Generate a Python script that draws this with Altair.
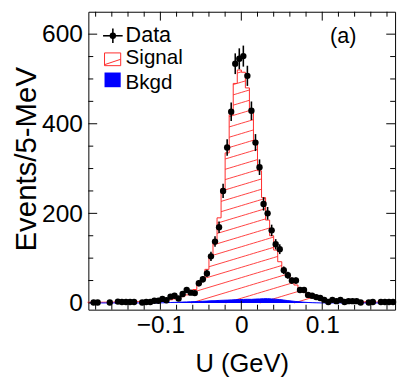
import altair as alt
import pandas as pd
import numpy as np

# ---------------- data ----------------
# bin centres of the 5-MeV histogram (GeV)
bin_centers = [round(-0.1875 + 0.005 * i, 4) for i in range(76)]
bin_width = 0.005

# fitted signal component, one value per bin
signal = [1.5, 1.5, 1.5, 1.6, 1.7, 1.8, 1.9, 2.0, 2.1, 2.3,
          2.5, 2.7, 2.9, 3.1, 3.4, 3.7, 4.1, 4.6, 5.2, 6.0,
          7.0, 9.0, 11.0, 14.0, 18.0, 23.0, 30.0, 40.0, 55.0, 75.0,
          105.0, 140.0, 190.0, 255.0, 335.0, 420.0, 490.0, 520.0, 515.0, 480.0,
          425.0, 360.0, 295.0, 235.0, 185.0, 150.0, 118.0, 92.0, 74.0, 61.0,
          50.0, 40.0, 31.0, 24.0, 18.0, 14.0, 11.0, 8.5, 7.0, 6.0,
          5.0, 4.5, 4.0, 3.6, 3.3, 3.0, 2.8, 2.6, 2.4, 2.2,
          2.1, 2.0, 1.9, 1.8, 1.7, 1.6]

# background component, one value per bin
bkgd = [0, 0, 0, 0, 0, 0, 0, 0, 0, 0,
        0, 0, 0, 0, 0, 0, 0, 0, 0.3, 0.6,
        1.0, 1.3, 1.6, 2.0, 2.3, 2.7, 3.0, 3.3, 3.8, 4.2,
        4.8, 5.0, 5.6, 6.0, 6.3, 6.8, 7.2, 7.6, 7.8, 8.2,
        8.0, 8.6, 9.0, 9.4, 9.6, 9.0, 8.4, 7.5, 6.4, 5.2,
        4.2, 3.2, 2.4, 1.6, 1.0, 0.6, 0.3, 0.1, 0, 0,
        0, 0, 0, 0, 0, 0, 0, 0, 0, 0,
        0, 0, 0, 0, 0, 0]

# data points (non-empty bins)
data_u = [-0.1825, -0.1775, -0.1625, -0.1525, -0.1475, -0.1425, -0.1375, -0.1325,
          -0.1225, -0.1175, -0.1125, -0.1075, -0.1025, -0.0975, -0.0925, -0.0875,
          -0.0825, -0.0775, -0.0725, -0.0675, -0.0625, -0.0575, -0.0525, -0.0475,
          -0.0425, -0.0375, -0.0325, -0.0275, -0.0225, -0.0175, -0.0125, -0.0075,
          -0.0025, 0.0025, 0.0075, 0.0125, 0.0175, 0.0225, 0.0275, 0.0325,
          0.0375, 0.0425, 0.0475, 0.0525, 0.0575, 0.0625, 0.0675, 0.0725,
          0.0775, 0.0825, 0.0875, 0.0925, 0.0975, 0.1025, 0.1075, 0.1125,
          0.1175, 0.1225, 0.1275, 0.1325, 0.1375, 0.1425, 0.1475, 0.1575,
          0.1625, 0.1725, 0.1775, 0.1825, 0.1875]
data_n = [1, 1, 1, 3, 2, 2, 2, 2,
          1, 2, 2, 5, 5, 9, 6, 14,
          16, 10, 20, 29, 23, 22, 44, 53,
          66, 104, 137, 169, 250, 347, 427, 534,
          545, 551, 507, 429, 358, 303, 221, 200,
          162, 131, 120, 73, 62, 50, 50, 29,
          29, 18, 16, 13, 11, 7, 2, 7,
          4, 7, 2, 4, 4, 4, 1, 1,
          2, 2, 2, 2, 2]

x_major = [-0.1, 0.0, 0.1]
x_minor = [-0.18, -0.16, -0.14, -0.12, -0.08, -0.06, -0.04, -0.02,
           0.02, 0.04, 0.06, 0.08, 0.12, 0.14, 0.16, 0.18]
y_major = [0, 200, 400, 600]
y_minor = [50, 100, 150, 250, 300, 350, 450, 500, 550]

# ---------------- layout / style ----------------
W, H = 313, 304
XDOM = [-0.189, 0.190]
YDOM = [-15, 650]
FONT = "Liberation Sans"
RED = "#ff2a2a"
BLUE = "#0000ff"

xs = alt.Scale(domain=XDOM, nice=False, zero=False)
ys = alt.Scale(domain=YDOM, nice=False, zero=False)

hist = pd.DataFrame({"c": bin_centers, "sig": signal, "bkg": bkgd})
hist["left"] = hist["c"] - bin_width / 2
hist["right"] = hist["c"] + bin_width / 2

# step outline of the signal histogram
step = pd.DataFrame({"x": list(hist["left"]) + [hist["right"].iloc[-1]],
                     "y": list(hist["sig"]) + [hist["sig"].iloc[-1]]})

# hatch lines clipped to each bin of the signal histogram
px_per_x = W / (XDOM[1] - XDOM[0])
px_per_y = H / (YDOM[1] - YDOM[0])
slope = 0.30 * px_per_x / px_per_y          # data units
spacing = 10.5 / px_per_y                   # data units
segs = []
for l, r, h in zip(hist["left"], hist["right"], hist["sig"]):
    base = slope * (l - XDOM[0])
    kmin = int(np.floor((0 - base - slope * (r - l)) / spacing)) - 1
    kmax = int(np.ceil((h - base) / spacing)) + 1
    for k in range(kmin, kmax + 1):
        yl = base + k * spacing
        yr = yl + slope * (r - l)
        if yr <= 0 or yl >= h:
            continue
        x1, y1, x2, y2 = l, yl, r, yr
        if y1 < 0:
            x1 = l + (0 - yl) / slope
            y1 = 0
        if y2 > h:
            x2 = r - (yr - h) / slope
            y2 = h
        segs.append({"x1": x1, "y1": y1, "x2": x2, "y2": y2})
hatch = pd.DataFrame(segs)

pts = pd.DataFrame({"u": data_u, "n": data_n})
pts["lo"] = pts["n"] - np.sqrt(pts["n"])
pts["hi"] = pts["n"] + np.sqrt(pts["n"])

# ---------------- layers ----------------
hatch_layer = alt.Chart(hatch).mark_rule(color=RED, strokeWidth=0.9).encode(
    x=alt.X("x1:Q", scale=xs), x2="x2:Q",
    y=alt.Y("y1:Q", scale=ys), y2="y2:Q")

outline = alt.Chart(step).mark_line(color=RED, strokeWidth=1, interpolate="step-after").encode(
    x=alt.X("x:Q", scale=xs,
            axis=alt.Axis(values=x_major, title="U (GeV)", labelPadding=3, titlePadding=14,
                          labelExpr="datum.value == 0 ? '0' : (datum.value < 0 ? '\u2212' : '') + format(abs(datum.value), '.1f')")),
    y=alt.Y("y:Q", scale=ys,
            axis=alt.Axis(values=y_major, title="Events/5-MeV", labelPadding=6, format="d",
                          titleFontSize=30, titleX=-54, titleY=150,
                          titleBaseline="alphabetic", titleAlign="center", titleAngle=270)))

bkg_layer = alt.Chart(hist).mark_area(color=BLUE, opacity=1,
                                      line={"color": BLUE, "strokeWidth": 1}).encode(
    x=alt.X("c:Q", scale=xs), y=alt.Y("bkg:Q", scale=ys))

err = alt.Chart(pts).mark_rule(color="black", strokeWidth=1.6).encode(
    x=alt.X("u:Q", scale=xs), y=alt.Y("lo:Q", scale=ys), y2="hi:Q")

dots = alt.Chart(pts).mark_circle(color="black", size=42, opacity=1).encode(
    x=alt.X("u:Q", scale=xs), y=alt.Y("n:Q", scale=ys))

# inward ticks on all four sides
def ticks(vals, length, axis):
    df = pd.DataFrame({"v": vals})
    out = []
    if axis == "x":
        out.append(alt.Chart(df).mark_rule(color="black").encode(
            x=alt.X("v:Q", scale=xs), y=alt.value(H), y2=alt.value(H - length)))
        out.append(alt.Chart(df).mark_rule(color="black").encode(
            x=alt.X("v:Q", scale=xs), y=alt.value(0), y2=alt.value(length)))
    else:
        out.append(alt.Chart(df).mark_rule(color="black").encode(
            y=alt.Y("v:Q", scale=ys), x=alt.value(0), x2=alt.value(length)))
        out.append(alt.Chart(df).mark_rule(color="black").encode(
            y=alt.Y("v:Q", scale=ys), x=alt.value(W), x2=alt.value(W - length)))
    return out

tick_layers = (ticks(x_major, 9, "x") + ticks(x_minor, 5, "x") +
               ticks(y_major, 9, "y") + ticks(y_minor, 5, "y"))

# legend (top left, inside the frame) and panel label
leg_df = pd.DataFrame({"a": [0]})
base = alt.Chart(leg_df)
leg = [
    base.mark_rule(color="black", strokeWidth=1.6).encode(x=alt.value(15), x2=alt.value(35), y=alt.value(24.5)),
    base.mark_rule(color="black", strokeWidth=1.6).encode(x=alt.value(25), y=alt.value(17), y2=alt.value(32)),
    base.mark_circle(color="black", size=42, opacity=1).encode(x=alt.value(25), y=alt.value(24.5)),
    base.mark_rect(fill="white", stroke=RED, strokeWidth=1).encode(
        x=alt.value(16.5), x2=alt.value(33), y=alt.value(42), y2=alt.value(55)),
    base.mark_rule(color=RED, strokeWidth=1).encode(
        x=alt.value(16.5), x2=alt.value(33), y=alt.value(54), y2=alt.value(48.5)),
    base.mark_rect(fill=BLUE).encode(
        x=alt.value(16.5), x2=alt.value(33), y=alt.value(62), y2=alt.value(77)),
    base.mark_text(text="Data", align="left", baseline="alphabetic", font=FONT, fontSize=22).encode(
        x=alt.value(38), y=alt.value(31)),
    base.mark_text(text="Signal", align="left", baseline="alphabetic", font=FONT, fontSize=21).encode(
        x=alt.value(38), y=alt.value(53.5)),
    base.mark_text(text="Bkgd", align="left", baseline="alphabetic", font=FONT, fontSize=21).encode(
        x=alt.value(38), y=alt.value(78.5)),
    base.mark_text(text="(a)", align="center", baseline="alphabetic", font=FONT, fontSize=22).encode(
        x=alt.value(260), y=alt.value(32)),
]

chart = alt.layer(outline, hatch_layer, bkg_layer, err, dots, *tick_layers, *leg).properties(
    width=W, height=H,
    padding={"left": 82, "top": 0, "right": 4, "bottom": 71},
    autosize=alt.AutoSizeParams(type="none"),
).configure_view(stroke="black", strokeWidth=1).configure_axis(
    ticks=False, domain=False, grid=False,
    labelFont=FONT, labelFontSize=25, labelColor="black",
    titleFont=FONT, titleFontSize=26, titleFontWeight="normal", titleColor="black",
)

chart.save("out.html", embed_options={"renderer": "svg", "actions": False})
